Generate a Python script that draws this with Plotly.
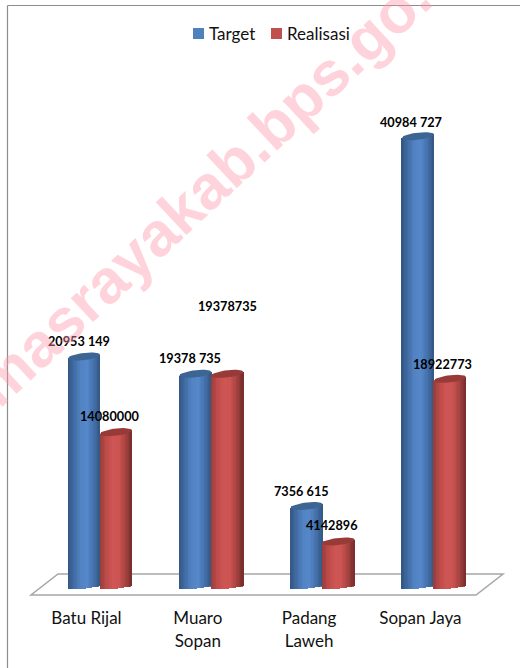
import plotly.graph_objects as go
import math

categories = ["Batu Rijal", "Muaro<br>Sopan", "Padang<br>Laweh", "Sopan Jaya"]
target = [20953149, 19378735, 7356615, 40984727]
realisasi = [14080000, 19378735, 4142896, 18922773]
target_labels = ["20953 149", "19378 735", "7356 615", "40984 727"]
realisasi_labels = ["14080000", "19378735", "4142896", "18922773"]
target_label_shift = [(-5, 16), (-5, 16), (-5, 15), (-7, 14)]
realisasi_label_shift = [(-6, 16), (0, 68), (-7, 16), (-7, 15)]

W, H = 520, 668
AXIS_PX = 597
PX_X = 111.3
PX_Y = 1 / 11e-6
X0_PX, Y0_PX = 100, 587
xr = [-X0_PX / PX_X, (W - X0_PX) / PX_X]
yr = [-(AXIS_PX - Y0_PX) * PX_Y, Y0_PX * PX_Y]
idx = list(range(len(categories)))
BW = 32 / PX_X
NS = 24


def mix(stops, t):
    n = len(stops) - 1
    i = min(int(t * n), n - 1)
    f = t * n - i
    a, b = stops[i], stops[i + 1]
    return "rgb(%d,%d,%d)" % tuple(a[k] + (b[k] - a[k]) * f for k in range(3))


BLUE = [(50, 86, 130), (66, 108, 165), (82, 131, 196), (86, 136, 202), (70, 115, 175), (52, 88, 130)]
RED = [(150, 60, 58), (190, 76, 74), (206, 86, 84), (204, 84, 82), (170, 68, 66), (118, 46, 45)]
BLUE_CAP = "#3c6594"
RED_CAP = "#973a38"

fig = go.Figure()


def series(name, values, color, stops, cap, side):
    fig.add_bar(x=idx, y=values, name=name, marker=dict(color=color, line_width=0),
                width=BW * 0.96, offset=(0.02 * BW if side > 0 else -0.98 * BW), hoverinfo="skip",
                showlegend=False)
    for s in range(NS):
        t0, t1 = s / NS, (s + 1) / NS
        u = (t0 + t1) / 2 * 2 - 1
        drop = 1.6 * PX_Y * math.sqrt(1 - u * u)
        tilt = 1.8 * u * PX_Y
        base = -drop + tilt
        fig.add_bar(x=idx, y=[v + tilt - base for v in values], base=[base] * len(values),
                    width=BW / NS * 1.15, offset=(t0 * BW if side > 0 else (t0 - 1) * BW),
                    marker=dict(color=mix(stops, (t0 + t1) / 2), line_width=0),
                    showlegend=False, hoverinfo="skip")
    for i, v in zip(idx, values):
        xs, ys = [], []
        cx = i + (BW / 2 if side > 0 else -BW / 2)
        for k in range(41):
            a = 2 * math.pi * k / 40
            c, sn = math.cos(a), math.sin(a)
            xs.append(cx + BW / 2 * c)
            ys.append(v + 1.8 * c * PX_Y + 3.6 * sn * PX_Y)
        fig.add_scatter(x=xs, y=ys, mode="lines", fill="toself", fillcolor=cap,
                        line=dict(width=0, color=cap), showlegend=False, hoverinfo="skip")


series("Target", target, "#4f81bd", BLUE, BLUE_CAP, -1)
series("Realisasi", realisasi, "#c0504d", RED, RED_CAP, 1)

annots = []
for values, labels, shifts, side in ((target, target_labels, target_label_shift, -1),
                                     (realisasi, realisasi_labels, realisasi_label_shift, 1)):
    for i, v, l, (dx, dy) in zip(idx, values, labels, shifts):
        annots.append(dict(x=i + side * BW / 2, y=v, text=l, xref="x", yref="y", showarrow=False,
                           xshift=dx, yshift=dy, xanchor="center", yanchor="middle",
                           font=dict(family="Lato", size=12.7, color="#000000", weight="bold")))

annots.append(dict(x=222 / W, y=1 - 172 / AXIS_PX, xref="paper", yref="paper", text="masrayakab.bps.go.id",
                   showarrow=False, textangle=-43, xanchor="center", yanchor="middle",
                   font=dict(family="Liberation Sans", size=62, color="rgba(255,150,170,0.42)", weight="bold")))

for label, sx, tx, color in (("Target", 193, 207, "#4f81bd"), ("Realisasi", 271, 285, "#c0504d")):
    annots.append(dict(x=tx / W, y=1 - 33 / AXIS_PX, xref="paper", yref="paper", text=label, showarrow=False,
                       xanchor="left", yanchor="middle", font=dict(family="Lato", size=17, color="#111111")))

FLOOR = ("M %f,%f L %f,%f L %f,%f L %f,%f Z" % (
    (31 - X0_PX) / PX_X, -8 * PX_Y, (476 - X0_PX) / PX_X, -8 * PX_Y,
    (503 - X0_PX) / PX_X, 13 * PX_Y, (58 - X0_PX) / PX_X, 13 * PX_Y))

shapes = [
    dict(type="path", path=FLOOR, xref="x", yref="y", line=dict(color="#a6a6a6", width=1.5), layer="below"),
    dict(type="line", xref="paper", yref="paper", x0=7.5 / W, x1=7.5 / W, y0=1 - 668 / AXIS_PX, y1=1 - 5.5 / AXIS_PX,
         line=dict(color="#8c8c8c", width=1.2)),
    dict(type="line", xref="paper", yref="paper", x0=7.5 / W, x1=1, y0=1 - 5.5 / AXIS_PX, y1=1 - 5.5 / AXIS_PX,
         line=dict(color="#8c8c8c", width=1.2)),
    dict(type="rect", xref="paper", yref="paper", x0=193 / W, x1=204 / W, y0=1 - 39 / AXIS_PX, y1=1 - 28 / AXIS_PX,
         fillcolor="#4f81bd", line_width=0),
    dict(type="rect", xref="paper", yref="paper", x0=271 / W, x1=282 / W, y0=1 - 39 / AXIS_PX, y1=1 - 28 / AXIS_PX,
         fillcolor="#c0504d", line_width=0),
]

fig.update_layout(
    width=W, height=H, barmode="overlay", bargap=0, showlegend=False,
    margin=dict(l=0, r=0, t=0, b=H - AXIS_PX, pad=0, autoexpand=False),
    paper_bgcolor="white", plot_bgcolor="white",
    font=dict(family="Lato", size=16, color="#111111"),
    xaxis=dict(range=xr, tickvals=[i - 13.5 / PX_X for i in idx], ticktext=categories, ticks="outside", ticklen=6,
               tickcolor="rgba(0,0,0,0)", showgrid=False, zeroline=False, showline=False,
               tickfont=dict(family="Lato", size=17, color="#111111"), fixedrange=True),
    yaxis=dict(range=yr, visible=False, showgrid=False, zeroline=False, fixedrange=True),
    shapes=shapes, annotations=annots,
)
fig.write_html("out.html", config={"displayModeBar": False},
               post_script="document.body.style.margin='0';document.body.style.overflow='hidden';")
